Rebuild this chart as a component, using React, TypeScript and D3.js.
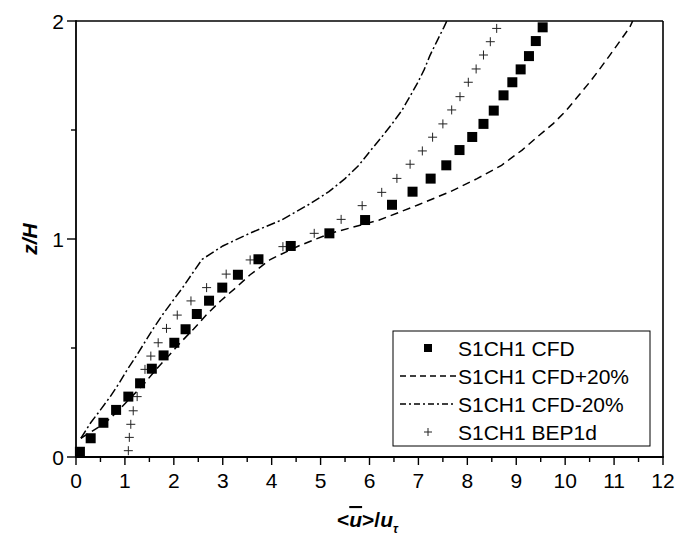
import React from "react";
import * as d3 from "d3";

// S1CH1 CFD (filled squares)
const cfdZ = [0.024, 0.086, 0.157, 0.216, 0.277, 0.338, 0.405, 0.466, 0.524, 0.586, 0.656, 0.717, 0.777, 0.836, 0.907, 0.968, 1.026, 1.087, 1.157, 1.217, 1.277, 1.338, 1.408, 1.468, 1.528, 1.589, 1.659, 1.719, 1.778, 1.839, 1.908, 1.971];
const cfdU = [0.08, 0.30, 0.56, 0.82, 1.07, 1.31, 1.55, 1.79, 2.01, 2.24, 2.47, 2.72, 2.99, 3.31, 3.73, 4.39, 5.18, 5.91, 6.46, 6.88, 7.25, 7.57, 7.84, 8.10, 8.33, 8.54, 8.74, 8.92, 9.09, 9.26, 9.40, 9.54];

// S1CH1 CFD+20% (dashed line)
const plusZ = [0.086, 0.157, 0.216, 0.277, 0.338, 0.405, 0.466, 0.524, 0.586, 0.656, 0.717, 0.777, 0.836, 0.907, 0.968, 1.026, 1.087, 1.157, 1.217, 1.277, 1.338, 1.408, 1.468, 1.528, 1.589, 1.659, 1.719, 1.778, 1.839, 1.908, 1.971, 2.0];
const plusU = [0.10, 0.60, 0.88, 1.14, 1.40, 1.65, 1.90, 2.13, 2.40, 2.68, 2.96, 3.27, 3.56, 3.98, 4.55, 5.20, 6.20, 7.00, 7.65, 8.20, 8.70, 9.12, 9.43, 9.75, 10.02, 10.28, 10.50, 10.70, 10.90, 11.12, 11.32, 11.38];

// S1CH1 CFD-20% (dash-dot line)
const minusZ = [0.086, 0.157, 0.216, 0.277, 0.338, 0.405, 0.466, 0.524, 0.586, 0.656, 0.717, 0.777, 0.836, 0.907, 0.968, 1.026, 1.087, 1.157, 1.217, 1.277, 1.338, 1.408, 1.468, 1.528, 1.589, 1.659, 1.719, 1.778, 1.839, 1.908, 1.971, 2.0];
const minusU = [0.10, 0.30, 0.50, 0.70, 0.88, 1.06, 1.24, 1.40, 1.57, 1.78, 1.98, 2.18, 2.36, 2.58, 3.00, 3.55, 4.20, 4.75, 5.17, 5.50, 5.78, 6.03, 6.25, 6.46, 6.66, 6.84, 6.99, 7.12, 7.23, 7.38, 7.52, 7.58];

// S1CH1 BEP1d (crosses)
const bepZ = [0.029, 0.090, 0.150, 0.212, 0.277, 0.338, 0.402, 0.463, 0.524, 0.590, 0.651, 0.716, 0.777, 0.839, 0.904, 0.965, 1.026, 1.090, 1.153, 1.214, 1.278, 1.343, 1.404, 1.467, 1.528, 1.592, 1.653, 1.719, 1.780, 1.844, 1.905, 1.966];
const bepU = [1.07, 1.09, 1.12, 1.17, 1.25, 1.32, 1.41, 1.53, 1.68, 1.85, 2.07, 2.35, 2.67, 3.07, 3.56, 4.23, 4.87, 5.42, 5.85, 6.25, 6.56, 6.83, 7.08, 7.29, 7.50, 7.68, 7.85, 8.02, 8.18, 8.33, 8.47, 8.60];

const xTicks = [0, 1, 2, 3, 4, 5, 6, 7, 8, 9, 10, 11, 12];
const xMinor = [0.5, 1.5, 2.5, 3.5, 4.5, 5.5, 6.5, 7.5, 8.5, 9.5, 10.5, 11.5];
const yTicks = [0, 1, 2];
const yMinor = [0.5, 1.5];
const legendLabels = ["S1CH1 CFD", "S1CH1 CFD+20%", "S1CH1 CFD-20%", "S1CH1 BEP1d"];

const W = 686;
const H = 540;
const FONT = "'Liberation Sans', Arial, sans-serif";

export default function App() {
  const x = d3.scaleLinear().domain([0, 12]).range([76, 663]);
  const y = d3.scaleLinear().domain([0, 2]).range([457, 21]);
  const line = d3
    .line<[number, number]>()
    .x((d) => x(d[0]))
    .y((d) => y(d[1]));
  const plusPts = plusU.map((u, i) => [u, plusZ[i]] as [number, number]);
  const minusPts = minusU.map((u, i) => [u, minusZ[i]] as [number, number]);
  const x0 = x(0), x1 = x(12), y0 = y(0), y1 = y(2);
  const sq = 10;
  const cr = 4.5;
  const dashed = "8,5";
  const dashdot = "9,3,2,3";

  const lx = 393, ly = 331, lw = 257, lh = 115;
  const rows = [348, 376, 404, 432];

  return (
    <svg width={W} height={H} style={{ position: "absolute", left: 0, top: 0, background: "#fff" }} fontFamily={FONT}>
      <rect x={0} y={0} width={W} height={H} fill="#fff" />
      <defs>
        <clipPath id="plot">
          <rect x={x0} y={y1} width={x1 - x0} height={y0 - y1} />
        </clipPath>
      </defs>
      {/* frame */}
      <line x1={x0} y1={y1} x2={x1} y2={y1} stroke="#000" strokeWidth={1.6} />
      <line x1={x1} y1={y1} x2={x1} y2={y0} stroke="#000" strokeWidth={1.6} />
      <line x1={x0} y1={y0} x2={x1 + 0.8} y2={y0} stroke="#000" strokeWidth={1.8} />
      <line x1={x0} y1={y1 - 0.8} x2={x0} y2={y0 + 0.8} stroke="#000" strokeWidth={1.8} />
      {/* x ticks */}
      {xTicks.map((t) => (
        <g key={"xt" + t}>
          <line x1={x(t)} x2={x(t)} y1={y0} y2={y0 + 8} stroke="#000" strokeWidth={1.4} />
          <text x={x(t)} y={y0 + 31} textAnchor="middle" fontSize={21}>{t}</text>
        </g>
      ))}
      {xMinor.map((t) => (
        <line key={"xm" + t} x1={x(t)} x2={x(t)} y1={y0} y2={y0 + 5} stroke="#000" strokeWidth={1.4} />
      ))}
      {/* y ticks */}
      {yTicks.map((t) => (
        <g key={"yt" + t}>
          <line x1={x0} x2={x0 - 9} y1={y(t)} y2={y(t)} stroke="#000" strokeWidth={1.4} />
          <text x={x0 - 12} y={y(t) + 7.5} textAnchor="end" fontSize={21}>{t}</text>
        </g>
      ))}
      {yMinor.map((t) => (
        <line key={"ym" + t} x1={x0} x2={x0 - 5} y1={y(t)} y2={y(t)} stroke="#000" strokeWidth={1.4} />
      ))}
      {/* axis titles */}
      <text transform={`translate(37,${y(1)}) rotate(-90)`} textAnchor="middle" fontSize={21} fontWeight="bold" fontStyle="italic">z/H</text>
      <text x={337} y={527} fontSize={21} fontWeight="bold">
        {"<"}
        <tspan fontStyle="italic" style={{ textDecoration: "overline" }}>u</tspan>
        {">/"}
        <tspan fontStyle="italic">u</tspan>
        <tspan fontStyle="italic" fontSize={12} dy={6}>τ</tspan>
      </text>

      {/* series */}
      <g clipPath="url(#plot)">
        <path d={line(plusPts) || ""} fill="none" stroke="#000" strokeWidth={1.5} strokeDasharray={dashed} />
        <path d={line(minusPts) || ""} fill="none" stroke="#000" strokeWidth={1.5} strokeDasharray={dashdot} />
      </g>
      {bepU.map((u, i) => (
        <path
          key={"b" + i}
          d={`M${x(u) - cr},${y(bepZ[i])}H${x(u) + cr}M${x(u)},${y(bepZ[i]) - cr}V${y(bepZ[i]) + cr}`}
          stroke="#222"
          strokeWidth={1}
          fill="none"
        />
      ))}
      {cfdU.map((u, i) => (
        <rect key={"c" + i} x={x(u) - sq / 2} y={y(cfdZ[i]) - sq / 2} width={sq} height={sq} fill="#000" />
      ))}

      {/* legend */}
      <rect x={lx} y={ly} width={lw} height={lh} fill="#fff" stroke="#000" strokeWidth={1} />
      <rect x={428 - 4} y={rows[0] - 4} width={8} height={8} fill="#000" />
      <line x1={400} x2={456} y1={rows[1]} y2={rows[1]} stroke="#000" strokeWidth={1.3} strokeDasharray="6,4" />
      <line x1={400} x2={456} y1={rows[2]} y2={rows[2]} stroke="#000" strokeWidth={1.3} strokeDasharray="6,3,2,3" />
      <path d={`M${428 - 4},${rows[3]}H${428 + 4}M428,${rows[3] - 4}V${rows[3] + 4}`} stroke="#222" strokeWidth={1} />
      {legendLabels.map((l, i) => (
        <text key={l} x={458} y={rows[i] + 7.5} fontSize={21}>{l}</text>
      ))}
    </svg>
  );
}
